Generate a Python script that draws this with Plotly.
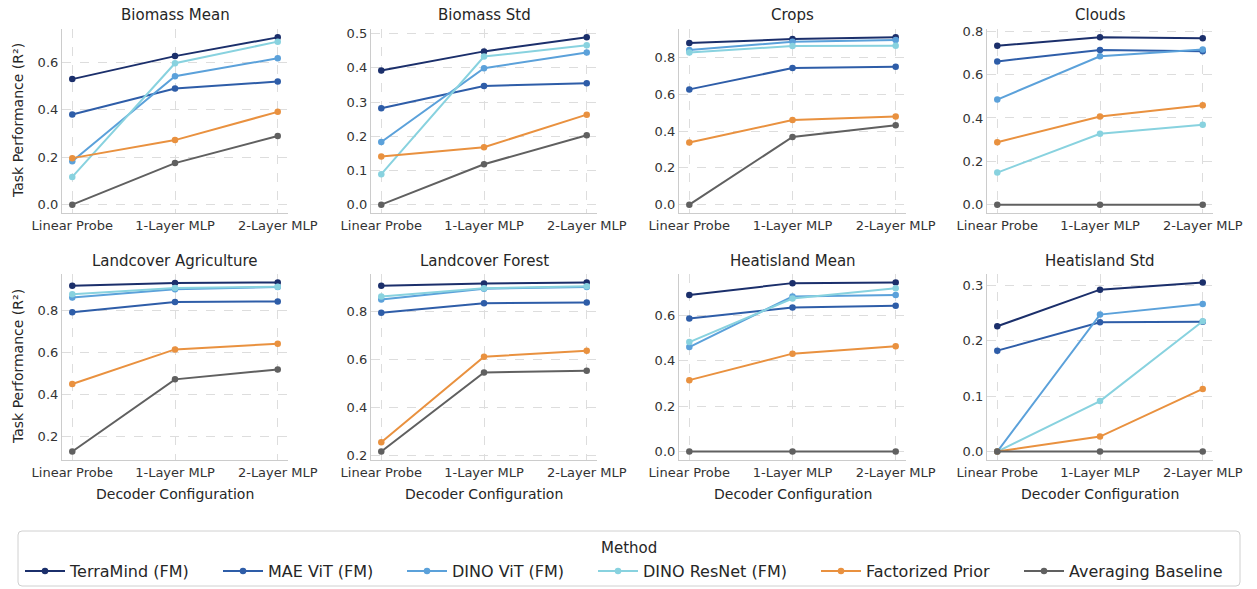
import plotly.graph_objects as go

W, H = 1257, 589

configs = ["Linear Probe", "1-Layer MLP", "2-Layer MLP"]
methods = ["TerraMind (FM)", "MAE ViT (FM)", "DINO ViT (FM)", "DINO ResNet (FM)",
           "Factorized Prior", "Averaging Baseline"]
colors = ["#1b2f6b", "#2e5da8", "#5ba1da", "#88d2df", "#e9913f", "#606060"]

tasks = ["Biomass Mean", "Biomass Std", "Crops", "Clouds",
         "Landcover Agriculture", "Landcover Forest", "Heatisland Mean", "Heatisland Std"]

biomass_mean = [[0.529, 0.626, 0.705], [0.380, 0.489, 0.519], [0.183, 0.541, 0.617],
                [0.117, 0.596, 0.687], [0.196, 0.272, 0.391], [0.000, 0.175, 0.289]]
biomass_std = [[0.392, 0.448, 0.489], [0.282, 0.347, 0.355], [0.183, 0.399, 0.445],
               [0.089, 0.433, 0.466], [0.141, 0.168, 0.263], [0.000, 0.118, 0.203]]
crops = [[0.879, 0.901, 0.910], [0.627, 0.743, 0.750], [0.841, 0.886, 0.895],
         [0.827, 0.863, 0.865], [0.338, 0.460, 0.480], [0.000, 0.368, 0.432]]
clouds = [[0.733, 0.772, 0.768], [0.661, 0.714, 0.708], [0.485, 0.685, 0.716],
          [0.148, 0.327, 0.369], [0.288, 0.407, 0.459], [0.000, 0.000, 0.000]]
landcover_agri = [[0.920, 0.933, 0.936], [0.794, 0.843, 0.845], [0.864, 0.904, 0.914],
                  [0.880, 0.910, 0.915], [0.451, 0.616, 0.643], [0.128, 0.473, 0.520]]
landcover_forest = [[0.909, 0.919, 0.923], [0.797, 0.836, 0.839], [0.852, 0.897, 0.904],
                    [0.864, 0.899, 0.907], [0.256, 0.613, 0.638], [0.217, 0.547, 0.554]]
heat_mean = [[0.691, 0.743, 0.746], [0.587, 0.636, 0.643], [0.461, 0.684, 0.691],
             [0.483, 0.675, 0.720], [0.315, 0.432, 0.464], [0.000, 0.000, 0.000]]
heat_std = [[0.226, 0.292, 0.305], [0.182, 0.233, 0.234], [0.000, 0.247, 0.266],
            [0.000, 0.091, 0.235], [0.000, 0.027, 0.113], [0.000, 0.000, 0.000]]

task_data = [biomass_mean, biomass_std, crops, clouds,
             landcover_agri, landcover_forest, heat_mean, heat_std]
y_dticks = [0.2, 0.1, 0.2, 0.2, 0.2, 0.2, 0.2, 0.1]

# layout geometry in pixels
col_px = [(62, 288), (371, 597), (679, 906), (987, 1213)]
row_px = [(29, 213), (274, 460)]
legend_entry_px = [24, 222, 406, 597, 820, 1023]

legend_ids = ["legend" if m == 0 else f"legend{m + 1}" for m in range(len(methods))]

fig = go.Figure()
layout = dict(
    width=W, height=H, margin=dict(l=0, r=0, t=0, b=0, autoexpand=False),
    paper_bgcolor="white", plot_bgcolor="white",
    font=dict(family="DejaVu Sans", color="#333333", size=13),
    showlegend=True,
)
annotations = []
shapes = []

for i, (task, data) in enumerate(zip(tasks, task_data)):
    r, c = divmod(i, 4)
    n = i + 1
    xa = "x" if n == 1 else f"x{n}"
    ya = "y" if n == 1 else f"y{n}"
    for m, (name, col, vals) in enumerate(zip(methods, colors, data)):
        fig.add_trace(go.Scatter(
            x=configs, y=vals, name=name, mode="lines+markers",
            line=dict(color=col, width=2), marker=dict(color=col, size=6.5),
            xaxis=xa, yaxis=ya, showlegend=(i == 0), legendgroup=name,
            legend=legend_ids[m],
        ))
    flat = [v for row in data for v in row]
    lo, hi = min(flat), max(flat)
    pad = (hi - lo) * 0.05
    x0, x1 = col_px[c]
    y0, y1 = row_px[r]
    axis_common = dict(
        showline=True, linecolor="#cccccc", linewidth=1.2, mirror=False,
        showgrid=True, gridcolor="#dddddd", griddash="dash", gridwidth=0.8,
        zeroline=False, ticks="", tickfont=dict(size=13, color="#333333"),
        automargin=False,
    )
    layout["xaxis" if n == 1 else f"xaxis{n}"] = dict(
        axis_common, domain=[x0 / W, x1 / W], anchor=ya,
        type="category", range=[-0.1, 2.1],
    )
    layout["yaxis" if n == 1 else f"yaxis{n}"] = dict(
        axis_common, domain=[1 - y1 / H, 1 - y0 / H], anchor=xa,
        range=[lo - pad, hi + pad], dtick=y_dticks[i], tickformat=".1f",
    )
    annotations.append(dict(
        text=task, x=(x0 + x1) / 2 / W, y=1 - (15 if r == 0 else 261) / H,
        xref="paper", yref="paper", showarrow=False, xanchor="center", yanchor="middle",
        font=dict(size=15, color="#262626"),
    ))
    if r == 1:
        annotations.append(dict(
            text="Decoder Configuration", x=(x0 + x1) / 2 / W, y=1 - 494 / H,
            xref="paper", yref="paper", showarrow=False, xanchor="center", yanchor="middle",
            font=dict(size=14, color="#262626"),
        ))
    if c == 0:
        annotations.append(dict(
            text="Task Performance (R²)", x=18 / W, y=1 - (y0 + y1) / 2 / H,
            xref="paper", yref="paper", showarrow=False, xanchor="center", yanchor="middle",
            textangle=-90, font=dict(size=14, color="#262626"),
        ))

annotations.append(dict(
    text="Method", x=629 / W, y=1 - 548 / H, xref="paper", yref="paper",
    showarrow=False, xanchor="center", yanchor="middle", font=dict(size=15, color="#262626"),
))

# legend frame with rounded corners
bx0, bx1, by0, by1, rad = 18, 1240, 531, 586, 4
def px(x):
    return x / W
def py(y):
    return 1 - y / H
path = (f"M {px(bx0+rad)},{py(by0)} L {px(bx1-rad)},{py(by0)} "
        f"Q {px(bx1)},{py(by0)} {px(bx1)},{py(by0+rad)} L {px(bx1)},{py(by1-rad)} "
        f"Q {px(bx1)},{py(by1)} {px(bx1-rad)},{py(by1)} L {px(bx0+rad)},{py(by1)} "
        f"Q {px(bx0)},{py(by1)} {px(bx0)},{py(by1-rad)} L {px(bx0)},{py(by0+rad)} "
        f"Q {px(bx0)},{py(by0)} {px(bx0+rad)},{py(by0)} Z")
shapes.append(dict(type="path", path=path, xref="paper", yref="paper",
                   line=dict(color="#d0d0d0", width=1), fillcolor="rgba(255,255,255,0.8)",
                   layer="below"))

layout["annotations"] = annotations
layout["shapes"] = shapes
for lid, lx in zip(legend_ids, legend_entry_px):
    layout[lid] = dict(
        orientation="h", x=(lx - 4) / W, xanchor="left", y=1 - 571 / H, yanchor="middle",
        font=dict(size=16, color="#262626"), bgcolor="rgba(0,0,0,0)", borderwidth=0,
        itemwidth=40,
    )
fig.update_layout(**layout)
fig.write_html("out.html")
